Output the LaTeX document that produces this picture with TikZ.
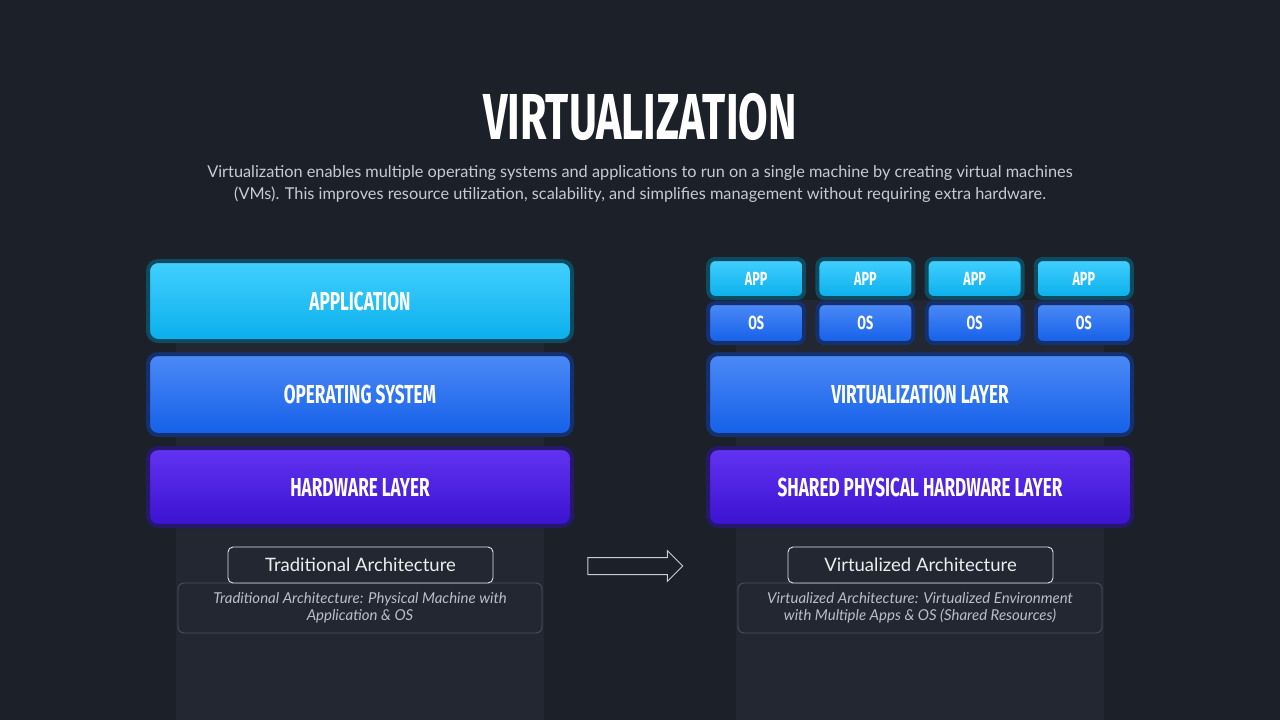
\documentclass[tikz,border=0pt]{standalone}
\usepackage{fontspec}
\setmainfont{Lato}
\newfontfamily\headfont[FakeStretch=0.66]{Fira Sans}
\usetikzlibrary{positioning}
\usetikzlibrary{shapes.arrows}
\usetikzlibrary{math}

\definecolor{bgdark}{HTML}{1C2029}
\definecolor{panelgrey}{HTML}{222732}
\definecolor{apptop}{HTML}{42D0FF}
\definecolor{appbot}{HTML}{0AAFEC}
\definecolor{appedge}{HTML}{0E4B60}
\definecolor{ostop}{HTML}{4C8AF6}
\definecolor{osbot}{HTML}{1460E9}
\definecolor{osedge}{HTML}{15306E}
\definecolor{hwtop}{HTML}{6233F2}
\definecolor{hwbot}{HTML}{3A12CF}
\definecolor{hwedge}{HTML}{25196A}
\definecolor{subgrey}{HTML}{C5CAD3}
\definecolor{capgrey}{HTML}{4C5564}
\definecolor{notegrey}{HTML}{B9BFC9}
\definecolor{arrowgrey}{HTML}{C9CDD3}

\tikzset{
  layer/.style={shade, top color=#1top, bottom color=#1bot, draw=#1edge,
    line width=4pt, rounded corners=10pt, text=white, inner sep=0pt,
    font=\headfont\bfseries\fontsize{26}{26}\selectfont},
  vmbox/.style={layer=#1, rounded corners=7pt,
    font=\headfont\bfseries\fontsize{19}{19}\selectfont},
  capbox/.style={draw=white!88!bgdark, line width=0.9pt, rounded corners=5pt,
    fill=panelgrey, text=white!92!bgdark, inner sep=0pt,
    font=\fontsize{18.5}{18.5}\selectfont},
  notebox/.style={draw=capgrey, line width=0.8pt, rounded corners=6pt,
    text=notegrey, inner sep=0pt, align=center,
    font=\itshape\fontsize{15}{17}\selectfont},
}

\begin{document}
\begin{tikzpicture}[x=1pt,y=-1pt]

  \tikzmath{
    \layerw = 424;   % width of the big layers
    \leftx  = 360;   % centre of traditional stack
    \rightx = 920;   % centre of virtualized stack
    \vmw    = 96;    % width of one app/os box
    \vmstep = 109.2; % distance between the vm columns
    \panelw = 368;   % width of the grey panels
  }

  % background and the two panels
  \fill[bgdark] (0,0) rectangle (1280,720);
  \useasboundingbox (0,0) rectangle (1280,720);
  \fill[panelgrey] (\leftx-\panelw/2,300) rectangle (\leftx+\panelw/2,720);
  \fill[panelgrey] (\rightx-\panelw/2,300) rectangle (\rightx+\panelw/2,720);

  % title
  \node[text=white, font=\headfont\bfseries\fontsize{65}{65}\selectfont]
    (title) at (640,117) {VIRTUALIZATION};
  \node[text=subgrey, align=center, font=\fontsize{16.3}{22}\selectfont]
    (intro) at (640,184) {Virtualization enables multiple operating systems and applications to run on a single machine by creating virtual machines\\
    (VMs). This improves resource utilization, scalability, and simplifies management without requiring extra hardware.};

  % traditional stack
  \node[layer=app, minimum width=\layerw pt, minimum height=80pt]
    (application) at (\leftx,301) {\raisebox{-2pt}{APPLICATION}};
  \node[layer=os, minimum width=\layerw pt, minimum height=81pt]
    (opsys) at (\leftx,394.5) {OPERATING SYSTEM};
  \node[layer=hw, minimum width=\layerw pt, minimum height=78pt]
    (hardware) at (\leftx,487) {\raisebox{-2pt}{HARDWARE LAYER}};

  % virtualized stack
  \foreach \i in {0,...,3}{
    \node[vmbox=app, minimum width=\vmw pt, minimum height=39pt]
      (app\i) at (\rightx-1.5*\vmstep+\i*\vmstep,278.5) {APP};
    \node[vmbox=os, minimum width=\vmw pt, minimum height=40pt]
      (os\i) at (\rightx-1.5*\vmstep+\i*\vmstep,323) {OS};
  }
  \node[layer=os, minimum width=\layerw pt, minimum height=81pt]
    (virtlayer) at (\rightx,394.5) {VIRTUALIZATION LAYER};
  \node[layer=hw, minimum width=\layerw pt, minimum height=78pt]
    (sharedhw) at (\rightx,487) {\raisebox{-2pt}{SHARED PHYSICAL HARDWARE LAYER}};

  % captions
  \node[notebox, minimum width=364pt, minimum height=50pt]
    (tradnote) at (\leftx,608) {Traditional Architecture: Physical Machine with\\Application \& OS};
  \node[capbox, minimum width=265pt, minimum height=36pt]
    (tradcap) at (\leftx+0.5,565) {Traditional Architecture};
  \node[notebox, minimum width=364pt, minimum height=50pt]
    (virtnote) at (\rightx,608) {Virtualized Architecture: Virtualized Environment\\with Multiple Apps \& OS (Shared Resources)};
  \node[capbox, minimum width=265pt, minimum height=36pt]
    (virtcap) at (\rightx+0.5,565) {Virtualized Architecture};

  % arrow between the two
  \node[single arrow, draw=arrowgrey, line width=1pt, inner sep=8pt,
    single arrow head extend=7pt, minimum height=95pt]
    (arrow) at (631,566) {};

\end{tikzpicture}
\end{document}
